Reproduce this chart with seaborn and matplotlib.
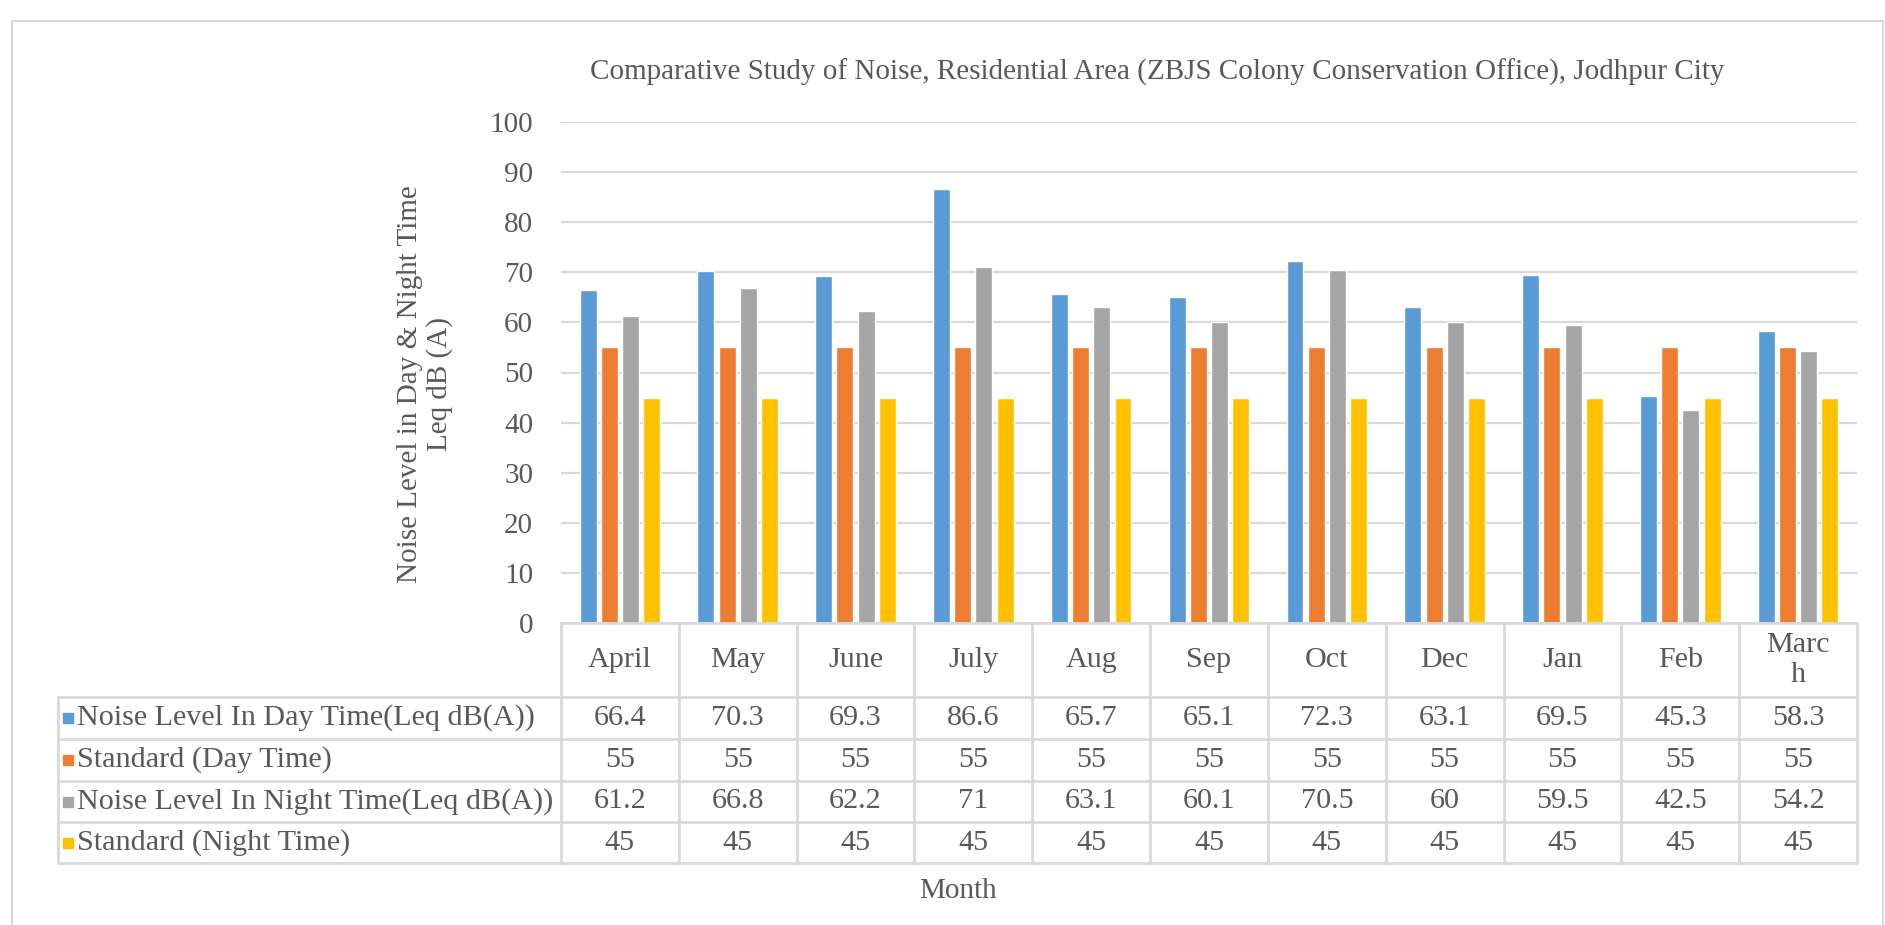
import numpy as np
import pandas as pd
import seaborn as sns
import matplotlib
matplotlib.use("Agg")
import matplotlib.pyplot as plt
from matplotlib.lines import Line2D
from matplotlib.patches import Rectangle

# ---------------- data ----------------
months = ["April", "May", "June", "July", "Aug", "Sep", "Oct", "Dec", "Jan", "Feb", "March"]
series = ["Noise Level In Day Time(Leq dB(A))", "Standard (Day Time)",
          "Noise Level In Night Time(Leq dB(A))", "Standard (Night Time)"]
day_noise = [66.4, 70.3, 69.3, 86.6, 65.7, 65.1, 72.3, 63.1, 69.5, 45.3, 58.3]
day_std = [55, 55, 55, 55, 55, 55, 55, 55, 55, 55, 55]
night_noise = [61.2, 66.8, 62.2, 71, 63.1, 60.1, 70.5, 60, 59.5, 42.5, 54.2]
night_std = [45, 45, 45, 45, 45, 45, 45, 45, 45, 45, 45]
yticks = [0, 10, 20, 30, 40, 50, 60, 70, 80, 90, 100]
colors = ["#5B9BD5", "#ED7D31", "#A5A5A5", "#FFC000"]

title = "Comparative Study of Noise, Residential Area (ZBJS Colony Conservation Office), Jodhpur City"
ylabel = "Noise Level in Day & Night Time\nLeq dB (A)"
xlabel = "Month"

all_vals = [day_noise, day_std, night_noise, night_std]
rows = []
for s, vals in zip(series, all_vals):
    for m, v in zip(months, vals):
        rows.append({"Month": m, "Series": s, "Value": v})
df = pd.DataFrame(rows)

# ---------------- style ----------------
sns.set_theme(style="white")
plt.rcParams["font.family"] = ["Liberation Serif", "DejaVu Serif"]
TXT = "#595959"
GRID = "#d9d9d9"
FS = 21
FST = 21.7

W, H = 1885, 925
fig = plt.figure(figsize=(W / 100, H / 100), dpi=100)

def fx(x):
    return x / W

def fy(y):
    return 1 - y / H

# plot area
PL, PR, P0, P100 = 561, 1857, 623, 122
ax = fig.add_axes([fx(PL), fy(P0), (PR - PL) / W, (P0 - P100) / H])
sns.barplot(data=df, x="Month", y="Value", hue="Series", order=months,
            hue_order=series, palette=colors, saturation=1,
            width=0.72, gap=0.2, ax=ax, legend=False, errorbar=None)
ax.set_xlim(-0.5, len(months) - 0.5)
ax.set_ylim(0, 100)
ax.set_yticks(yticks)
ax.yaxis.grid(True, color=GRID, lw=1.6)
ax.set_axisbelow(True)
for sp in ax.spines.values():
    sp.set_visible(False)
ax.set_xticks([])
ax.set_xlabel("")
ax.set_ylabel("")
ax.tick_params(axis="y", length=0, pad=20, labelsize=FS, labelcolor=TXT)

# ---------------- data table ----------------
LEFT = 58
row_edges = [623, 697, 739, 781, 822, 863]
col_w = (PR - PL) / len(months)
col_edges = [PL + i * col_w for i in range(len(months) + 1)]

def hline(y, x0, x1):
    fig.add_artist(Line2D([fx(x0), fx(x1)], [fy(y), fy(y)], color=GRID, lw=2,
                          transform=fig.transFigure))

def vline(x, y0, y1):
    fig.add_artist(Line2D([fx(x), fx(x)], [fy(y0), fy(y1)], color=GRID, lw=2,
                          transform=fig.transFigure))

hline(row_edges[0], PL, PR)
for y in row_edges[1:]:
    hline(y, LEFT, PR)
for x in col_edges:
    vline(x, row_edges[0], row_edges[-1])
vline(LEFT, row_edges[1], row_edges[-1])

# header (months)
hc = (row_edges[0] + row_edges[1]) / 2
for i, m in enumerate(months):
    cx = (col_edges[i] + col_edges[i + 1]) / 2
    lbl = "Marc\nh" if m == "March" else m
    fig.text(fx(cx), fy(hc), lbl, ha="center", va="center", fontsize=FST,
             color=TXT, linespacing=1.25)

# rows
for r, (s, vals, c) in enumerate(zip(series, all_vals, colors)):
    rc = (row_edges[r + 1] + row_edges[r + 2]) / 2
    fig.add_artist(Rectangle((fx(63), fy(rc + 5)), 10 / W, 10 / H, color=c,
                             transform=fig.transFigure))
    fig.text(fx(77), fy(rc), s, ha="left", va="center", fontsize=FST, color=TXT)
    for i, v in enumerate(vals):
        cx = (col_edges[i] + col_edges[i + 1]) / 2
        fig.text(fx(cx), fy(rc), f"{v:g}", ha="center", va="center",
                 fontsize=FST, color=TXT)

# titles / labels
fig.text(fx(1157), fy(72), title, ha="center", va="center", fontsize=FS, color=TXT)
fig.text(fx(425), fy(384), ylabel, ha="center", va="center", rotation=90,
         fontsize=FS, color=TXT, multialignment="center", linespacing=1.15)
fig.text(fx(958), fy(891), xlabel, ha="center", va="center", fontsize=FS, color=TXT)

# outer chart border
fig.add_artist(Rectangle((fx(12), -0.1), (1883 - 12) / W, fy(21) + 0.1,
                         fill=False, edgecolor=GRID, lw=1.5,
                         transform=fig.transFigure))

fig.savefig("out.png", dpi=100)
